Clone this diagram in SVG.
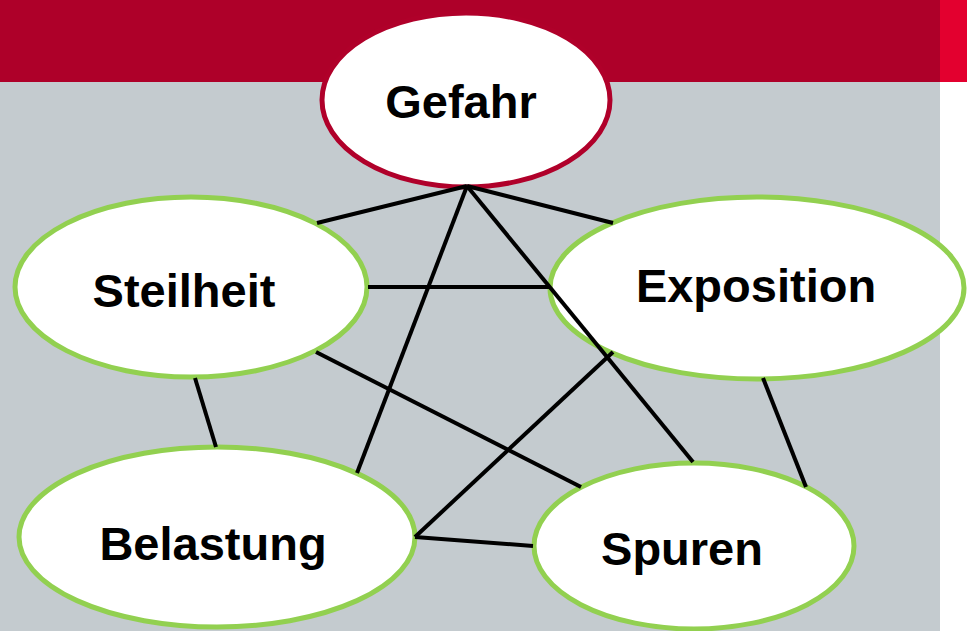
<svg xmlns="http://www.w3.org/2000/svg" width="967" height="631" viewBox="0 0 967 631">
<style>
.node{fill:#ffffff;stroke-width:5}
.green{stroke:#92d050}
.red{stroke:#b0002a}
.lbl{font-family:"Liberation Sans",Arial,sans-serif;font-weight:bold;font-size:47px;fill:#000;text-anchor:middle}
.edge{stroke:#000;stroke-width:4;fill:none;stroke-linecap:butt}
</style>
<rect x="0" y="0" width="967" height="631" fill="#c4cbcf"/>
<rect x="0" y="0" width="940" height="82" fill="#ae0029"/>
<rect x="940" y="0" width="27" height="82" fill="#e3002f"/>
<rect x="940" y="82" width="27" height="549" fill="#ffffff"/>
<g id="gefahr">
<ellipse class="node red" cx="466" cy="100" rx="144" ry="87"/>
<text class="lbl" x="461" y="118">Gefahr</text>
</g>
<g id="steilheit">
<ellipse class="node green" cx="191" cy="287" rx="176" ry="90"/>
<text class="lbl" x="184" y="307">Steilheit</text>
</g>
<g id="exposition">
<ellipse class="node green" cx="757" cy="288" rx="207" ry="91"/>
<text class="lbl" x="756" y="302">Exposition</text>
</g>
<g id="belastung">
<ellipse class="node green" cx="217" cy="537" rx="198" ry="90"/>
<text class="lbl" x="213" y="560">Belastung</text>
</g>
<g id="spuren">
<ellipse class="node green" cx="694" cy="546" rx="160" ry="83"/>
<text class="lbl" x="682" y="565">Spuren</text>
</g>
<g id="connectors">
<line class="edge" x1="467" y1="186" x2="317" y2="223"/>
<line class="edge" x1="467" y1="186" x2="613" y2="223"/>
<line class="edge" x1="467" y1="186" x2="357" y2="473"/>
<line class="edge" x1="467" y1="186" x2="693" y2="462"/>
<line class="edge" x1="368" y1="287" x2="549" y2="287"/>
<line class="edge" x1="316" y1="352" x2="581" y2="487"/>
<line class="edge" x1="195" y1="378" x2="216" y2="447"/>
<line class="edge" x1="613" y1="352" x2="415" y2="537"/>
<line class="edge" x1="763" y1="378" x2="806" y2="487"/>
<line class="edge" x1="415" y1="537" x2="533" y2="546"/>
</g>
</svg>
